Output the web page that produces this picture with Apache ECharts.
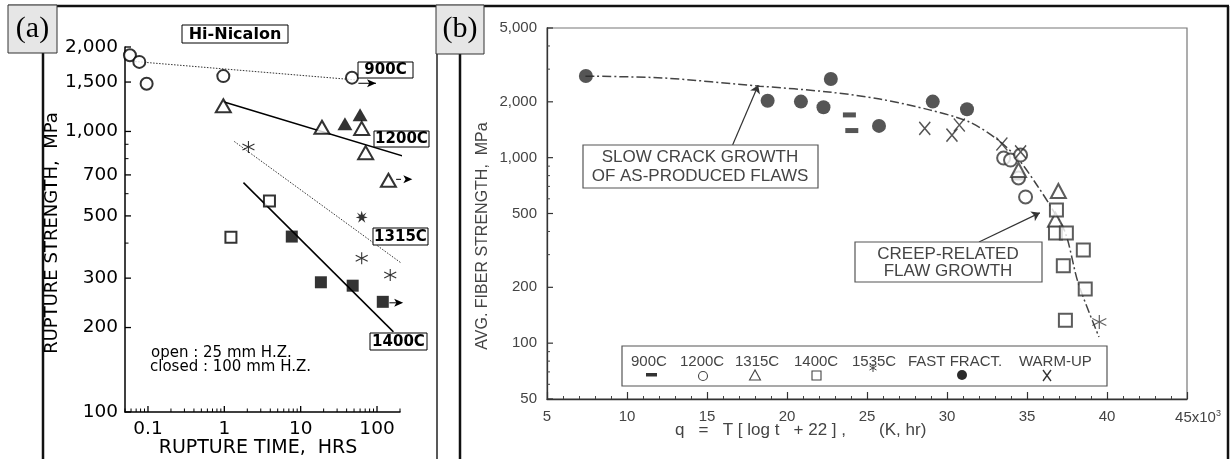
<!DOCTYPE html>
<html><head><meta charset="utf-8">
<script src="https://cdn.jsdelivr.net/npm/echarts@6/dist/echarts.min.js"></script>
<style>html,body{margin:0;padding:0;background:#fff}#c{width:1231px;height:459px}</style>
</head><body><div id="c"></div>
<script>
// ================= Panel (a) data =================
const aXTicks = [0.1, 1, 10, 100];
const aXMinor = [0.05,0.06,0.07,0.08,0.09,0.2,0.3,0.4,0.5,0.6,0.7,0.8,0.9,2,3,4,5,6,7,8,9,20,30,40,50,60,70,80,90,200];
const aYTicks = [100, 200, 300, 500, 700, 1000, 1500, 2000];
const aYMinor = [400, 600, 800, 900];
const a900Open   = [[0.058,1870],[0.077,1770],[0.096,1480],[0.97,1575],[47,1555]];
const a1200Open  = [[0.97,1235],[19,1035],[63,1025],[71,840],[141,670]];
const a1200Closed= [[38,1065],[60,1146]];
const a1315Open  = [[2.07,880],[63,353],[149,308]];
const a1315Closed= [[63,497]];
const a1400Open  = [[1.22,420],[3.9,565]];
const a1400Closed= [[7.65,422],[18.4,290],[48,282],[119,247]];
const aFit900  = [[0.068,1775],[55,1525]];
const aFit1200 = [[0.97,1277],[248,809]];
const aFit1315 = [[1.35,921],[318,312]];
const aFit1400 = [[1.78,657],[164,193]];
const aRunOut  = [[[57,1485],[97,1485]],[[178,675],[290,675]],[[145,245],[220,245]]];
const aTempLabels = ['900C','1200C','1315C','1400C'];

// ================= Panel (b) data =================
const bYTicks = [50, 100, 200, 500, 1000, 2000, 5000];
const bYMinor = [60,70,80,90,300,400,600,700,800,900,3000,4000];
const b900   = [[23.9,1700],[24.05,1400],[34.47,777]];
const b1200  = [[33.54,995],[33.97,971],[34.6,1033],[34.47,777],[34.91,614]];
const b1315  = [[34.47,858],[36.96,661],[36.78,462]];
const b1400  = [[36.84,523],[36.78,393],[37.46,393],[38.52,318],[37.27,261],[38.64,196],[37.4,133]];
const b1535  = [[39.52,130]];
const bFast  = [[7.43,2754],[18.79,2028],[20.87,2006],[22.28,1868],[22.74,2655],[25.75,1483],[29.11,2006],[31.25,1824]];
const bWarm  = [[28.61,1439],[30.31,1324],[30.77,1500],[33.43,1185],[34.6,1074]];
const bCurve = [[7.4,2750],[12.2,2690],[18.3,2430],[22.6,2260],[25.8,2070],[28.9,1810],[31.4,1556],[33.2,1244],[34.5,970],[35.7,695],[36.5,542],[37.4,393],[38.2,211],[39.5,108]];
const bNotes = [[[16.6,1170],[18.2,2460]],[[32.0,351],[35.8,504]]];
const bLegendNames = ['900C','1200C','1315C','1400C','1535C','FAST FRACT.','WARM-UP'];

// ================= symbols =================
const ASTER = 'path://M10,0L10,20M1.34,5L18.66,15M1.34,15L18.66,5';
const STAR = 'path://M10,0L12,7L18,3L14,9L20,11L13.5,12.5L16,19L10,14.5L4,19L6.5,12.5L0,11L6,9L2,3L8,7Z';
const XMARK = 'path://M0,0L10,12M0,12L10,0';

function fmt(v){ return String(v).replace(/\B(?=(\d{3})+(?!\d))/g, ','); }

const A = {xAxisIndex:0, yAxisIndex:0};
const B = {xAxisIndex:1, yAxisIndex:1};
function fitLine(data, type, width, color){
  return Object.assign({type:'line', data, symbol:'none', clip:false, silent:true, z:2,
    lineStyle:{color, width, type}}, A);
}
function arrowLine(p){
  return Object.assign({type:'line', clip:false, silent:true, z:4, symbolSize:[6,9],
    lineStyle:{color:'#000', width:1}, itemStyle:{color:'#000'},
    data:[{value:p[0], symbol:'none'},{value:p[1], symbol:'arrow', symbolRotate:-90}]}, A);
}
function sc(data, symbol, size, st, idx, extra){
  return Object.assign({type:'scatter', data, symbol, symbolSize:size, silent:true, z:5,
    itemStyle:st}, idx, extra||{});
}
const openA = {color:'#000', borderColor:'#000', borderWidth:1.2};
const fillA = {color:'#000', borderColor:'#000', borderWidth:0};
const openB = {color:'#333', borderColor:'#3a3a3a', borderWidth:1.2};
const fillB = {color:'#2a2a2a', borderColor:'#2a2a2a', borderWidth:0};

const option = {
  animation:false,
  backgroundColor:'#fff',
  grid:[
    {left:125, top:47, width:275, height:365, show:false},
    {left:547, top:28, width:640, height:371, show:true, borderColor:'#777', borderWidth:1.2, backgroundColor:'transparent'}
  ],
  xAxis:[
    {gridIndex:0, type:'log', logBase:10, min:0.05, max:200,
      axisLine:{show:true, onZero:false, lineStyle:{color:'#000', width:1.5}},
      axisTick:{show:false}, axisLabel:{show:false}, splitLine:{show:false}},
    {gridIndex:1, type:'value', min:5, max:45, interval:5,
      axisLine:{show:true, onZero:false, lineStyle:{color:'#333', width:1.3}},
      axisTick:{show:true, inside:true, length:7, lineStyle:{color:'#333', width:1.2}},
      minorTick:{show:true, splitNumber:5, length:3, lineStyle:{color:'#444', width:1}},
      axisLabel:{show:true, margin:10, color:'#444', fontFamily:'Liberation Sans', fontSize:15,
        formatter:function(v){ return v===45 ? '{sp|}45x10{s|3}' : String(v); },
        rich:{s:{fontSize:9, verticalAlign:'top', padding:[0,0,8,0], color:'#444'}, sp:{width:22}}},
      splitLine:{show:false}}
  ],
  yAxis:[
    {gridIndex:0, type:'log', logBase:10, min:100, max:2000,
      axisLine:{show:true, onZero:false, lineStyle:{color:'#000', width:1.5}},
      axisTick:{show:false}, axisLabel:{show:false}, splitLine:{show:false}},
    {gridIndex:1, type:'log', logBase:10, min:50, max:5000,
      axisLine:{show:true, onZero:false, lineStyle:{color:'#333', width:1.3}},
      axisTick:{show:false}, axisLabel:{show:false}, splitLine:{show:false}}
  ],
  series:[
    // ---- panel (a) ----
    fitLine(aFit900, [1.5,1.5], 1, '#333'),
    fitLine(aFit1200, 'solid', 1.5, '#000'),
    fitLine(aFit1315, [1.5,1.5], 1, '#333'),
    fitLine(aFit1400, 'solid', 1.5, '#000'),
    ...aRunOut.map(arrowLine),
    sc(a900Open, 'emptyCircle', 12, openA, A),
    sc(a1200Open, 'emptyTriangle', [15,13], openA, A),
    sc(a1200Closed, 'triangle', [15,13], fillA, A),
    sc(a1315Open, ASTER, 12, {color:'transparent', borderColor:'#000', borderWidth:1.1}, A),
    sc(a1315Closed, STAR, 12, fillA, A),
    sc(a1400Open, 'emptyRect', 11, openA, A),
    sc(a1400Closed, 'rect', 12, fillA, A),
    // ---- panel (b) ----
    Object.assign({type:'line', data:bCurve, symbol:'none', smooth:0.3, silent:true, z:2,
      lineStyle:{color:'#444', width:1.5, type:[9,3,2,3]}}, B),
    sc(b900, 'rect', [13,5], fillB, B),
    sc(b1200, 'emptyCircle', 13, openB, B),
    sc(b1315, 'emptyTriangle', [15,14], openB, B),
    sc(b1400, 'emptyRect', 13, openB, B),
    sc(b1535, ASTER, 14, {color:'transparent', borderColor:'#3a3a3a', borderWidth:1.2}, B),
    sc(bFast, 'circle', 14, fillB, B, {
      markLine:{silent:true, symbol:['none','arrow'], symbolSize:8, label:{show:false},
        lineStyle:{color:'#333', width:1.2, type:'solid'},
        data:[
          [{coord:bNotes[0][0]},{coord:bNotes[0][1]}],
          [{coord:bNotes[1][0]},{coord:bNotes[1][1], lineStyle:{curveness:0.25}}]
        ]}
    }),
    sc(bWarm, XMARK, [11,13], {color:'transparent', borderColor:'#2a2a2a', borderWidth:1.5}, B)
  ]
};

const chart = echarts.init(document.getElementById('c'), null, {renderer:'canvas'});
chart.setOption(option);

const G = [];
const L = (x1,y1,x2,y2,c,w,z)=>G.push({type:'line',silent:true,z:z||40,shape:{x1,y1,x2,y2},style:{stroke:c,lineWidth:w}});
const T = (t,x,y,st,rot,z)=>G.push({type:'text',silent:true,z:z||60,x,y,rotation:rot||0,
  style:Object.assign({text:t,fill:'#000',align:'center',verticalAlign:'middle',fontFamily:'DejaVu Sans',fontSize:16},st||{})});
const R = (x,y,w,h,st,z)=>G.push({type:'rect',silent:true,z:z||55,shape:{x,y,width:w,height:h},
  style:Object.assign({fill:'#fff',stroke:'#000',lineWidth:1},st||{})});
const P = (gi,x,y)=>chart.convertToPixel({gridIndex:gi},[x,y]);

// ---- page frame ----
L(8,6,1229,6,'#111',2.5,30);
L(43,6,43,459,'#111',2.5,30);
L(437,6,437,459,'#222',1.5,30);
L(460,6,460,459,'#111',2.5,30);
L(1228,6,1228,459,'#111',2.5,30);
R(8,5,49,48,{fill:'#e6e6e6',stroke:'#333',lineWidth:1},70);
T('(a)',32.5,29,{fontFamily:'Liberation Serif',fontSize:30},0,71);
R(436,5,48,49,{fill:'#e6e6e6',stroke:'#333',lineWidth:1},70);
T('(b)',460,29,{fontFamily:'Liberation Serif',fontSize:30},0,71);

// ---- panel (a) axes decorations ----
aYTicks.forEach(v=>{const p=P(0,0.05,v); L(p[0],p[1],p[0]+6,p[1],'#000',1.3); T(fmt(v),p[0]-7,p[1],{align:'right',fontSize:18.5});});
aYMinor.forEach(v=>{const p=P(0,0.05,v); L(p[0],p[1],p[0]+3.5,p[1],'#000',1);});
aXTicks.forEach(v=>{const p=P(0,v,100); L(p[0],p[1],p[0],p[1]-6,'#000',1.3); T(String(v),p[0],p[1]+17,{fontSize:18.5});});
aXMinor.forEach(v=>{const p=P(0,v,100); L(p[0],p[1],p[0],p[1]-3.5,'#000',1);});
T('RUPTURE STRENGTH,  MPa',52.5,233,{fontSize:18},Math.PI/2);
T('RUPTURE TIME,  HRS',258,448,{fontSize:19});
R(182,25,106,18);
T('Hi-Nicalon',235,34.5,{fontSize:16,fontWeight:'bold'});
const aBoxes = [[358,62,55,16],[374,131,55,16],[373,228,55,17],[370,333,57,17]];
aTempLabels.forEach((t,i)=>{const b=aBoxes[i]; R(b[0],b[1],b[2],b[3]); T(t,b[0]+b[2]/2,b[1]+b[3]/2+0.5,{fontSize:15,fontWeight:'bold'});});
T('open : 25 mm H.Z.',151,353,{align:'left',fontSize:15});
T('closed : 100 mm H.Z.',150,367,{align:'left',fontSize:15});

// ---- panel (b) axes decorations ----
const gb = {fontFamily:'Liberation Sans', fill:'#444'};
bYTicks.forEach(v=>{const p=P(1,5,v); L(p[0],p[1],p[0]+6,p[1],'#333',1.2); T(fmt(v),p[0]-10,p[1],Object.assign({align:'right',fontSize:15},gb));});
bYMinor.forEach(v=>{const p=P(1,5,v); L(p[0],p[1],p[0]+3,p[1],'#444',1);});
T('AVG. FIBER STRENGTH,  MPa',483,236,Object.assign({fontSize:16},gb),Math.PI/2);
T('q   =   T [ log t   + 22 ] ,       (K, hr)',675,430,Object.assign({align:'left',fontSize:17},gb));
// annotation boxes
R(583,145,235,43,{stroke:'#555',lineWidth:1.2});
T('SLOW CRACK GROWTH',700,157,Object.assign({fontSize:17},gb));
T('OF AS-PRODUCED FLAWS',700,176.5,Object.assign({fontSize:17},gb));
R(855,242,187,40,{stroke:'#555',lineWidth:1.2});
T('CREEP-RELATED',948,254.5,Object.assign({fontSize:17},gb));
T('FLAW GROWTH',948,271.5,Object.assign({fontSize:17},gb));
// legend
R(622,346,485,40,{stroke:'#555',lineWidth:1.2});
const legX = [631,680,735,794,852,908,1019];
bLegendNames.forEach((n,i)=>T(n,legX[i],362,Object.assign({align:'left',fontSize:15},gb)));
G.push({type:'rect',silent:true,z:62,shape:{x:646,y:373,width:11,height:3.5},style:{fill:'#333'}});
G.push({type:'circle',silent:true,z:62,shape:{cx:703,cy:376,r:4.5},style:{fill:'none',stroke:'#444',lineWidth:1.1}});
G.push({type:'polygon',silent:true,z:62,shape:{points:[[755,370],[749.5,380],[760.5,380]]},style:{fill:'none',stroke:'#444',lineWidth:1.1}});
G.push({type:'rect',silent:true,z:62,shape:{x:812,y:371,width:9,height:9},style:{fill:'none',stroke:'#444',lineWidth:1.1}});
L(873,364,873,372,'#444',1,62); L(869.5,366,876.5,370,'#444',1,62); L(869.5,370,876.5,366,'#444',1,62);
G.push({type:'circle',silent:true,z:62,shape:{cx:962,cy:375,r:5},style:{fill:'#2a2a2a'}});
L(1043,370,1051,381,'#333',1.3,62); L(1043,381,1051,370,'#333',1.3,62);

chart.setOption({graphic:G});
</script>
</body></html>
